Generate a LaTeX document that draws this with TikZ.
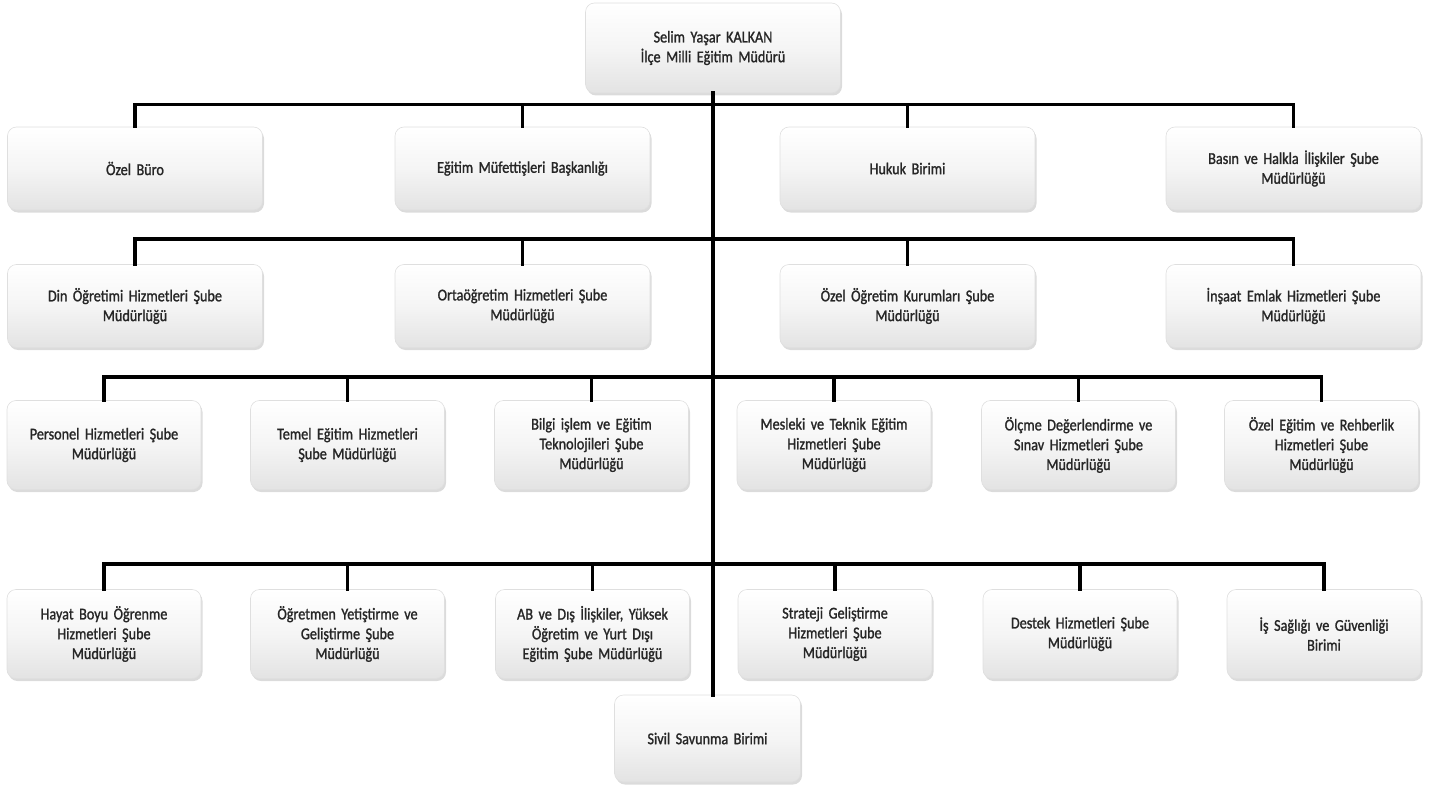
\documentclass[tikz,border=0pt]{standalone}
\usepackage{fontspec}
\setmainfont{Carlito}
\newfontfamily\orgfam[FakeStretch=0.86,FakeBold=1.3]{Carlito}
\usetikzlibrary{shadows}
\newcommand{\orgboxfont}{\orgfam\fontsize{16.5}{19.8}\selectfont\spaceskip=0.55em plus 0.1em minus 0.05em\relax}
\tikzset{
  box/.style={rounded corners=9pt, draw=gray!25, line width=0.6pt,
    top color=white, bottom color=gray!22, middle color=gray!8,
    drop shadow={shadow xshift=1.5pt, shadow yshift=-2.5pt, opacity=0.35, fill=gray!80},
    align=center, inner sep=4pt, font=\orgboxfont, text=black!85},
  wbox/.style={box, minimum width=255pt, minimum height=83pt, text width=245pt},
  nbox/.style={box, minimum width=193pt, minimum height=89pt, text width=186pt},
  conn/.style={line width=3.6pt, line join=miter, line cap=rect, black}
}
\begin{document}
\begin{tikzpicture}[x=1pt,y=-1pt]
\useasboundingbox (0,0) rectangle (1438,789);
% top
\node[wbox, minimum height=90pt] (top) at (713,48) {Selim Yaşar KALKAN\\İlçe Milli Eğitim Müdürü};
% row 1
\node[wbox] (r1a) at (135,168.5) {Özel Büro};
\node[wbox] (r1b) at (522.5,168.5) {Eğitim Müfettişleri Başkanlığı};
\node[wbox] (r1c) at (907.5,168.5) {Hukuk Birimi};
\node[wbox] (r1d) at (1293.5,168.5) {Basın ve Halkla İlişkiler Şube\\Müdürlüğü};
% row 2
\node[wbox] (r2a) at (135,306) {Din Öğretimi Hizmetleri Şube\\Müdürlüğü};
\node[wbox] (r2b) at (522.5,306) {Ortaöğretim Hizmetleri Şube\\Müdürlüğü};
\node[wbox] (r2c) at (907.5,306) {Özel Öğretim Kurumları Şube\\Müdürlüğü};
\node[wbox] (r2d) at (1293.5,306) {İnşaat Emlak Hizmetleri Şube\\Müdürlüğü};
% row 3
\node[nbox] (r3a) at (104,445) {Personel Hizmetleri Şube\\Müdürlüğü};
\node[nbox] (r3b) at (347.5,445) {Temel Eğitim Hizmetleri\\Şube Müdürlüğü};
\node[nbox] (r3c) at (591.5,445) {Bilgi işlem ve Eğitim\\Teknolojileri Şube\\Müdürlüğü};
\node[nbox] (r3d) at (834,445) {Mesleki ve Teknik Eğitim\\Hizmetleri Şube\\Müdürlüğü};
\node[nbox] (r3e) at (1078.5,445) {Ölçme Değerlendirme ve\\Sınav Hizmetleri Şube\\Müdürlüğü};
\node[nbox] (r3f) at (1321.5,445) {Özel Eğitim ve Rehberlik\\Hizmetleri Şube\\Müdürlüğü};
% row 4
\node[nbox] (r4a) at (104,634) {Hayat Boyu Öğrenme\\Hizmetleri Şube\\Müdürlüğü};
\node[nbox] (r4b) at (347.5,634) {Öğretmen Yetiştirme ve\\Geliştirme Şube\\Müdürlüğü};
\node[nbox] (r4c) at (592.5,634) {AB ve Dış İlişkiler, Yüksek\\Öğretim ve Yurt Dışı\\Eğitim Şube Müdürlüğü};
\node[nbox] (r4d) at (835,634) {Strateji Geliştirme\\Hizmetleri Şube\\Müdürlüğü};
\node[nbox] (r4e) at (1080,634) {Destek Hizmetleri Şube\\Müdürlüğü};
\node[nbox] (r4f) at (1324,634) {İş Sağlığı ve Güvenliği\\Birimi};
% bottom
\node[box, minimum width=185pt, minimum height=87pt, text width=178pt] (siv) at (707.5,738.5) {Sivil Savunma Birimi};
% connectors
\draw[conn] (top.south) -- (top.south |- siv.north);
\draw[conn] (r1a.north) -- ++(0,-22) -| (r1d.north);
\draw[conn] (r1b.north) -- ++(0,-22);
\draw[conn] (r1c.north) -- ++(0,-22);
\draw[conn] (r2a.north) -- ++(0,-25) -| (r2d.north);
\draw[conn] (r2b.north) -- ++(0,-25);
\draw[conn] (r2c.north) -- ++(0,-25);
\draw[conn] (r3a.north) -- ++(0,-23) -| (r3f.north);
\draw[conn] (r3b.north) -- ++(0,-23);
\draw[conn] (r3c.north) -- ++(0,-23);
\draw[conn] (r3d.north) -- ++(0,-23);
\draw[conn] (r3e.north) -- ++(0,-23);
\draw[conn] (r4a.north) -- ++(0,-25) -| (r4f.north);
\draw[conn] (r4b.north) -- ++(0,-25);
\draw[conn] (r4c.north) -- ++(0,-25);
\draw[conn] (r4d.north) -- ++(0,-25);
\draw[conn] (r4e.north) -- ++(0,-25);
\end{tikzpicture}
\end{document}
